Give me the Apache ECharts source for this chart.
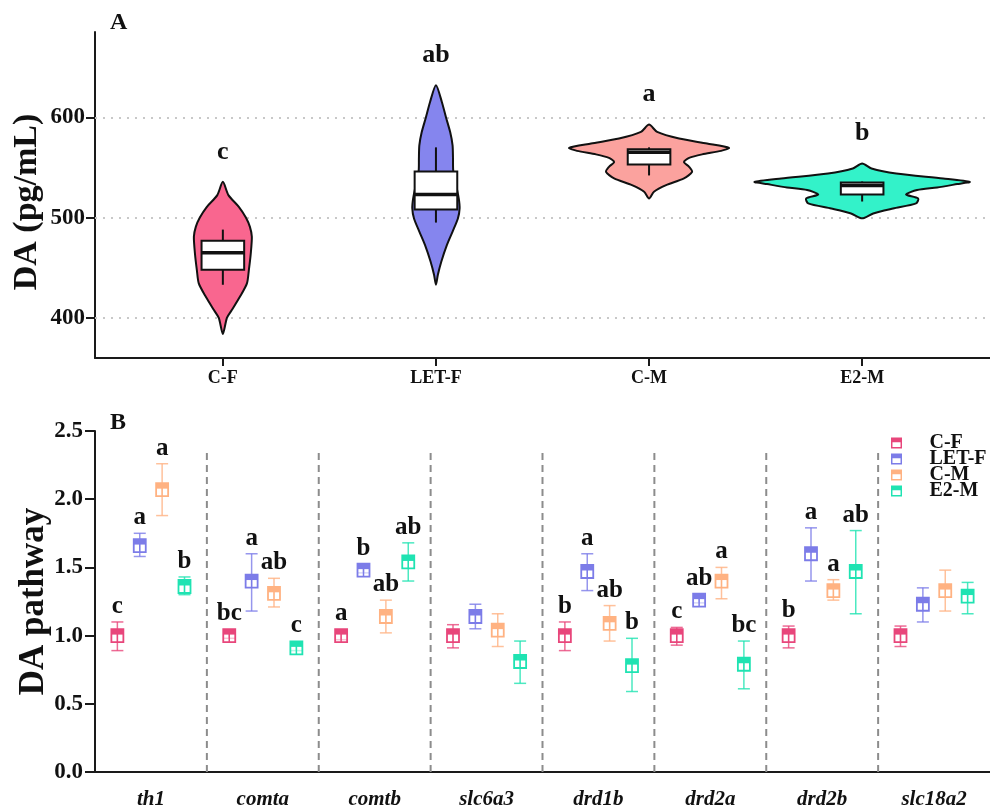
<!DOCTYPE html>
<html>
<head>
<meta charset="utf-8">
<script src="https://cdn.jsdelivr.net/npm/echarts@6/dist/echarts.min.js"></script>
<style>
  html, body { margin: 0; padding: 0; background: #fff; }
  #main { width: 990px; height: 809px; }
</style>
</head>
<body>
<div id="main"></div>
<script>
  // ---- panel A : violin + box ----
  var violinCats = ['C-F', 'LET-F', 'C-M', 'E2-M'];
  // density outline: values (pg/mL) and half width (x-axis units)
  var cfViolinY = [535.6, 522.4, 510.7, 500, 490.7, 480.8, 464.2, 447.6, 434.4, 421, 407.8, 400, 384];
  var cfViolinW = [0, 0.026, 0.075, 0.108, 0.127, 0.136, 0.131, 0.122, 0.113, 0.080, 0.042, 0.019, 0];
  var letViolinY = [632, 615, 600, 585, 572, 559, 547, 533, 519, 509, 499, 486, 473, 456, 443, 433];
  var letViolinW = [0, 0.028, 0.047, 0.067, 0.078, 0.080, 0.081, 0.094, 0.107, 0.111, 0.103, 0.078, 0.052, 0.025, 0.009, 0];
  var cmViolinY = [592.7, 585.4, 578.8, 573.8, 569.5, 566.5, 563, 559.5, 555.5, 550.6, 545.6, 539, 532.3, 525.7, 519];
  var cmViolinW = [0, 0.038, 0.141, 0.272, 0.375, 0.338, 0.249, 0.188, 0.164, 0.188, 0.202, 0.164, 0.080, 0.023, 0];
  var e2ViolinY = [553.9, 548.9, 543.9, 539, 535.6, 533.4, 530, 527.4, 523, 519.1, 514.1, 509, 504.1, 499.2];
  var e2ViolinW = [0, 0.044, 0.160, 0.380, 0.505, 0.446, 0.352, 0.258, 0.206, 0.263, 0.253, 0.145, 0.052, 0];
  var whiskerLow = [433, 495, 542, 516];
  var boxQ1 = [448, 508, 553, 523];
  var boxMedian = [465, 523, 565, 532];
  var boxQ3 = [477, 546, 568, 535];
  var whiskerHigh = [488, 570, 570, 536];
  var sigA = ['c', 'ab', 'a', 'b'];
  var gridValuesA = [400, 500, 600];

  // ---- panel B : DA pathway genes ----
  var genes = ['th1', 'comta', 'comtb', 'slc6a3', 'drd1b', 'drd2a', 'drd2b', 'slc18a2'];
  var groups = ['C-F', 'LET-F', 'C-M', 'E2-M'];
  var cfMean = [1.00, 1.00, 1.00, 1.00, 1.00, 1.00, 1.00, 1.00];
  var cfLow = [0.89, 0.98, 0.97, 0.91, 0.89, 0.93, 0.91, 0.92];
  var cfHigh = [1.10, 1.02, 1.03, 1.08, 1.10, 1.06, 1.07, 1.07];
  var cfSig = ['c', 'bc', 'a', '', 'b', 'c', 'b', ''];
  var letMean = [1.66, 1.40, 1.48, 1.14, 1.47, 1.26, 1.60, 1.23];
  var letLow = [1.58, 1.18, 1.46, 1.05, 1.33, 1.24, 1.40, 1.10];
  var letHigh = [1.75, 1.60, 1.51, 1.23, 1.60, 1.29, 1.79, 1.35];
  var letSig = ['a', 'a', 'b', '', 'a', 'ab', 'a', ''];
  var cmMean = [2.07, 1.31, 1.14, 1.04, 1.09, 1.40, 1.33, 1.33];
  var cmLow = [1.88, 1.21, 1.02, 0.92, 0.96, 1.27, 1.26, 1.18];
  var cmHigh = [2.26, 1.42, 1.26, 1.16, 1.22, 1.50, 1.41, 1.48];
  var cmSig = ['a', 'ab', 'ab', '', 'ab', 'a', 'a', ''];
  var e2Mean = [1.36, 0.91, 1.54, 0.81, 0.78, 0.79, 1.47, 1.29];
  var e2Low = [1.30, 0.89, 1.40, 0.65, 0.59, 0.61, 1.16, 1.16];
  var e2High = [1.43, 0.94, 1.68, 0.96, 0.98, 0.96, 1.77, 1.39];
  var e2Sig = ['b', 'c', 'ab', '', 'b', 'bc', 'ab', ''];

  var SERIF = '"Liberation Serif", "Times New Roman", serif';
  var violinColors = ['#f9668f', '#8585ee', '#fba29e', '#33f2c9'];
  var groupColors = ['#e8467b', '#7c7ce8', '#ffb282', '#1fe3b2'];
  var violinY = [cfViolinY, letViolinY, cmViolinY, e2ViolinY];
  var violinW = [cfViolinW, letViolinW, cmViolinW, e2ViolinW];
  var means = [cfMean, letMean, cmMean, e2Mean];
  var lows = [cfLow, letLow, cmLow, e2Low];
  var highs = [cfHigh, letHigh, cmHigh, e2High];
  var sigs = [cfSig, letSig, cmSig, e2Sig];
  var SEP_TOP = 2.34;

  var chart = echarts.init(document.getElementById('main'));

  /*violin + box for each group of panel A*/
  function renderViolin(params, api) {
    var i = params.dataIndex;
    var ys = violinY[i], ws = violinW[i];
    var pts = [];
    for (var k = 0; k < ys.length; k++) {
      pts.push(api.coord([i - ws[k], ys[k]]));
    }
    for (var k2 = ys.length - 2; k2 >= 1; k2--) {
      pts.push(api.coord([i + ws[k2], ys[k2]]));
    }
    var bw = 0.1;
    var q3p = api.coord([i - bw, boxQ3[i]]);
    var q1p = api.coord([i + bw, boxQ1[i]]);
    var medL = api.coord([i - bw, boxMedian[i]]);
    var medR = api.coord([i + bw, boxMedian[i]]);
    var wLo = api.coord([i, whiskerLow[i]]);
    var wHi = api.coord([i, whiskerHigh[i]]);
    var tip = api.coord([i, ys[0]]);
    return {
      type: 'group',
      children: [
        {type: 'polygon', shape: {points: pts, smooth: 0.25}, style: {fill: violinColors[i], stroke: '#111', lineWidth: 2}},
        {type: 'line', shape: {x1: wLo[0], y1: wLo[1], x2: wHi[0], y2: wHi[1]}, style: {stroke: '#111', lineWidth: 2}},
        {type: 'rect', shape: {x: q3p[0], y: q3p[1], width: q1p[0] - q3p[0], height: q1p[1] - q3p[1]}, style: {fill: '#fff', stroke: '#111', lineWidth: 2}},
        {type: 'line', shape: {x1: medL[0], y1: medL[1], x2: medR[0], y2: medR[1]}, style: {stroke: '#111', lineWidth: 3.5}},
        {type: 'text', x: tip[0], y: tip[1] - 17, style: {text: sigA[i], fill: '#111', font: 'bold 26px ' + SERIF, align: 'center', verticalAlign: 'bottom'}}
      ]
    };
  }

  /*mean box marker with error bar, panel B*/
  function makeGroupRender(gi) {
    return function (params, api) {
      var k = params.dataIndex;
      var band = api.size([1, 0])[0];
      var off = (gi - 1.5) * 0.2 * band;
      var c = api.coord([k, means[gi][k]]);
      var cx = c[0] + off, cy = c[1];
      var lo = api.coord([k, lows[gi][k]])[1];
      var hi = api.coord([k, highs[gi][k]])[1];
      var col = groupColors[gi];
      var hw = 6, hh = 6.5;
      var kids = [
        {type: 'line', shape: {x1: cx, y1: hi, x2: cx, y2: lo}, style: {stroke: col, lineWidth: 1.5, opacity: 0.8}},
        {type: 'line', shape: {x1: cx - hw, y1: hi, x2: cx + hw, y2: hi}, style: {stroke: col, lineWidth: 1.5, opacity: 0.8}},
        {type: 'line', shape: {x1: cx - hw, y1: lo, x2: cx + hw, y2: lo}, style: {stroke: col, lineWidth: 1.5, opacity: 0.8}},
        {type: 'rect', shape: {x: cx - hw, y: cy - hh, width: hw * 2, height: hh * 2}, style: {fill: 'rgba(255,255,255,0.6)', stroke: col, lineWidth: 1.8}},
        {type: 'line', shape: {x1: cx, y1: cy - hh, x2: cx, y2: cy + hh}, style: {stroke: col, lineWidth: 1.5}},
        {type: 'rect', shape: {x: cx - hw, y: cy - hh, width: hw * 2, height: 5.5}, style: {fill: col}}
      ];
      var txt = sigs[gi][k];
      if (txt) {
        var top = Math.min(hi, cy - hh);
        kids.push({type: 'text', x: cx, y: top - 3, style: {text: txt, fill: '#111', font: 'bold 25px ' + SERIF, align: 'center', verticalAlign: 'bottom'}});
      }
      return {type: 'group', children: kids};
    };
  }

  /*dashed separators between genes*/
  function renderSep(params, api) {
    var idx = api.value(0);
    var band = api.size([1, 0])[0];
    var b = api.coord([idx, 0]);
    var t = api.coord([idx, SEP_TOP]);
    var x = b[0] - band / 2;
    return {type: 'line', shape: {x1: x, y1: b[1], x2: x, y2: t[1]}, style: {stroke: '#8c8c8c', lineWidth: 2, lineDash: [7, 5]}};
  }

  var axisBlack = {color: '#1a1a1a', width: 2};

  var series = [
    {
      type: 'custom', xAxisIndex: 0, yAxisIndex: 0, z: 3,
      data: violinCats.map(function (c, i) { return [i, boxMedian[i]]; }),
      renderItem: renderViolin,
      markLine: {
        silent: true, symbol: 'none', z: 1, animation: false,
        label: {show: false},
        lineStyle: {color: '#c8c8c8', type: [2, 6], width: 2},
        data: gridValuesA.map(function (v) { return {yAxis: v}; })
      }
    },
    {
      type: 'custom', xAxisIndex: 1, yAxisIndex: 1, z: 1, silent: true,
      data: genes.slice(1).map(function (g, i) { return [i + 1, 0]; }),
      renderItem: renderSep
    }
  ];
  groups.forEach(function (g, gi) {
    series.push({
      type: 'custom', name: g, xAxisIndex: 1, yAxisIndex: 1, z: 3,
      itemStyle: {color: groupColors[gi]},
      encode: {x: 0, y: [1, 2, 3]},
      data: genes.map(function (gn, k) { return [k, means[gi][k], lows[gi][k], highs[gi][k]]; }),
      renderItem: makeGroupRender(gi)
    });
  });

  var option = {
    animation: false,
    backgroundColor: '#fff',
    grid: [
      {left: 95, right: 0, top: 32, height: 326, outerBoundsMode: 'none'},
      {left: 95, right: 0, top: 431, height: 341, outerBoundsMode: 'none'}
    ],
    legend: {
      data: groups,
      orient: 'vertical',
      left: 891, top: 433, padding: 0,
      itemWidth: 12, itemHeight: 11, itemGap: -4,
      icon: 'path://M0,0L12,0L12,12L0,12Z M1.6,5.2L1.6,10.4L10.4,10.4L10.4,5.2Z',
      textStyle: {fontFamily: SERIF, fontWeight: 'bold', fontSize: 20, color: '#111', padding: [0, 0, 0, 22]}
    },
    graphic: [
      {type: 'text', left: 110, top: 11, style: {text: 'A', font: 'bold 24px ' + SERIF, fill: '#111'}},
      {type: 'text', left: 110, top: 411, style: {text: 'B', font: 'bold 24px ' + SERIF, fill: '#111'}}
    ],
    xAxis: [
      {
        gridIndex: 0, type: 'value', min: -0.6, max: 3.6,
        axisLine: {onZero: false, lineStyle: axisBlack},
        axisTick: {customValues: [0, 1, 2, 3], length: 8, lineStyle: axisBlack},
        axisLabel: {
          customValues: [0, 1, 2, 3], margin: 11,
          formatter: function (v) { return violinCats[Math.round(v)]; },
          fontFamily: SERIF, fontWeight: 'bold', fontSize: 18, color: '#111'
        },
        splitLine: {show: false}
      },
      {
        gridIndex: 1, type: 'category', data: genes,
        axisLine: {onZero: false, lineStyle: axisBlack},
        axisTick: {alignWithLabel: true, length: 8, lineStyle: axisBlack},
        axisLabel: {margin: 17, fontFamily: SERIF, fontWeight: 'bold', fontStyle: 'italic', fontSize: 21, color: '#111'},
        splitLine: {show: false}
      }
    ],
    yAxis: [
      {
        gridIndex: 0, type: 'value', min: 360, max: 685,
        name: 'DA (pg/mL)', nameLocation: 'middle', nameGap: 51, nameMoveOverlap: false,
        nameTextStyle: {fontFamily: SERIF, fontWeight: 'bold', fontSize: 34, color: '#111', padding: [0, 14, 0, 0]},
        axisLine: {show: true, onZero: false, lineStyle: axisBlack},
        axisTick: {show: true, customValues: gridValuesA, length: 9, lineStyle: axisBlack},
        axisLabel: {customValues: gridValuesA, margin: 10, fontFamily: SERIF, fontWeight: 'bold', fontSize: 23, color: '#111'},
        splitLine: {show: false}
      },
      {
        gridIndex: 1, type: 'value', min: 0, max: 2.5, interval: 0.5,
        name: 'DA pathway', nameLocation: 'middle', nameGap: 44, nameMoveOverlap: false,
        nameTextStyle: {fontFamily: SERIF, fontWeight: 'bold', fontSize: 35, color: '#111'},
        axisLine: {show: true, onZero: false, lineStyle: axisBlack},
        axisTick: {show: true, length: 10, lineStyle: axisBlack},
        axisLabel: {
          margin: 12, fontFamily: SERIF, fontWeight: 'bold', fontSize: 23, color: '#111',
          formatter: function (v) { return v.toFixed(1); }
        },
        splitLine: {show: false}
      }
    ],
    series: series
  };

  chart.setOption(option);
  window.addEventListener('resize', function () {
    chart.resize();
  });
</script>
</body>
</html>
